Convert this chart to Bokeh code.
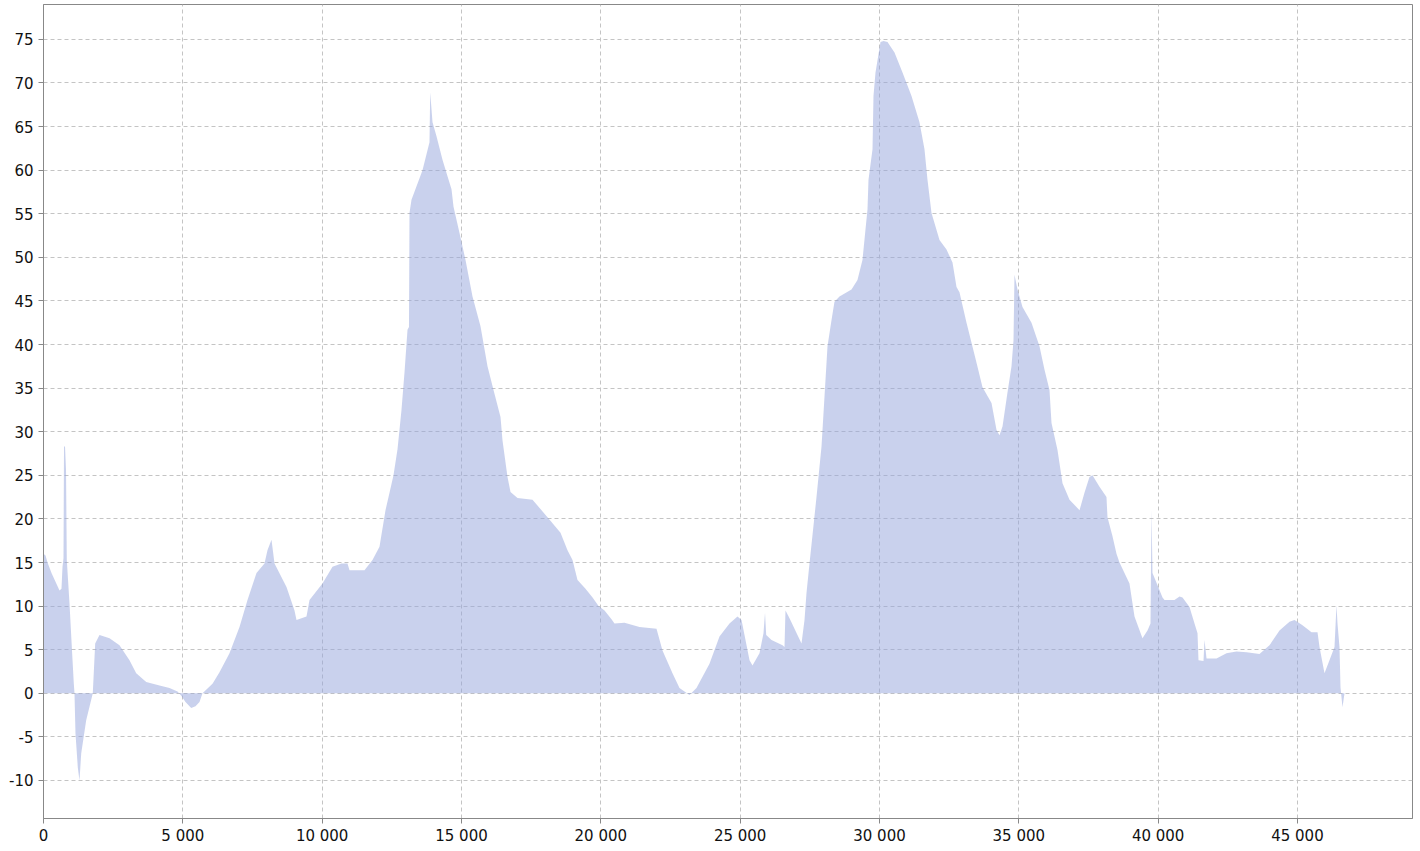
from bokeh.plotting import figure
from bokeh.models import FixedTicker, Range1d, ColumnDataSource
from bokeh.embed import file_html
from bokeh.resources import INLINE

distance = [0, 72, 144, 287, 431, 574, 646, 682, 718, 736, 772, 808, 836, 933, 1016, 1088, 1112,
            1148, 1231, 1292, 1353, 1532, 1769, 1855, 2010, 2369, 2727, 3086, 3327, 3686, 4163,
            4522, 4809, 4952, 5096, 5300, 5455, 5598, 5706, 6065, 6316, 6675, 7034, 7321, 7644,
            7931, 8038, 8182, 8290, 8720, 9007, 9079, 9438, 9546, 10012, 10371, 10694, 10909,
            10981, 11519, 11806, 12058, 12273, 12417, 12560, 12704, 12847, 12955, 13063, 13116,
            13134, 13206, 13601, 13852, 13877, 13960, 14103, 14318, 14498, 14642, 14714, 14929,
            15144, 15395, 15682, 15933, 16149, 16400, 16472, 16651, 16759, 17010, 17548, 18086,
            18553, 18804, 18984, 19163, 19450, 19703, 19918, 20133, 20383, 20491, 20850, 21388,
            21998, 22213, 22572, 22823, 23182, 23433, 23900, 24259, 24618, 24905, 25049, 25336,
            25443, 25694, 25838, 25892, 25935, 26125, 26520, 26592, 26627, 26771, 27202, 27310,
            27381, 27489, 27740, 27920, 28027, 28135, 28278, 28386, 28565, 28996, 29211, 29390,
            29498, 29570, 29606, 29750, 29785, 29857, 30037, 30145, 30288, 30539, 30826, 31149,
            31436, 31615, 31723, 31867, 32154, 32405, 32620, 32764, 32871, 33123, 33482, 33697,
            34020, 34200, 34307, 34415, 34594, 34738, 34810, 34845, 34953, 35132, 35455, 35742,
            35922, 36101, 36173, 36388, 36568, 36819, 37179, 37357, 37536, 37644, 37895, 38146,
            38182, 38362, 38505, 38613, 38971, 39151, 39438, 39618, 39726, 39762, 39797, 40157,
            40228, 40587, 40767, 40874, 41125, 41305, 41413, 41448, 41628, 41664, 41736, 42095,
            42453, 42812, 43171, 43637, 43996, 44355, 44714, 44893, 45180, 45504, 45719, 45791,
            45970, 46149, 46329, 46401, 46436, 46508, 46544, 46616, 46688, 46760]

values = [16.0, 15.8, 15.0, 13.8, 12.8, 11.8, 12.0, 14.5, 15.5, 28.3, 28.3, 25.6, 15.3, 10.3, 5.3, 1.1, 0.0,
          -4.6, -8.5, -10.0, -6.9, -3.1, 0.0, 5.7, 6.7, 6.3, 5.5, 3.8, 2.3, 1.3, 0.9,
          0.6, 0.2, -0.3, -1.0, -1.7, -1.5, -1.0, 0.0, 1.1, 2.4, 4.6, 7.6, 10.7, 13.8,
          14.9, 16.4, 17.6, 14.9, 12.2, 9.5, 8.4, 8.8, 10.7, 12.6, 14.5, 14.9, 14.9,
          14.1, 14.1, 15.3, 16.8, 21.0, 23.0, 25.0, 28.0, 32.5, 36.8, 41.7, 42.0,
          55.1, 56.6, 60.0, 63.2, 68.9, 65.5, 63.9, 61.2, 59.3, 57.8, 55.8, 52.8,
          49.7, 45.5, 42.1, 37.5, 34.8, 31.7, 29.0, 24.8, 23.1, 22.4, 22.2, 20.2,
          18.4, 16.4, 15.3, 13.0, 12.0, 11.0, 10.0, 9.5, 8.5, 8.0, 8.1, 7.6,
          7.4, 4.9, 2.3, 0.6, -0.2, 0.6, 3.4, 6.5, 8.0, 8.8, 8.4, 3.8,
          3.2, 4.6, 6.9, 9.2, 6.7, 6.1, 5.5, 5.3, 9.5, 8.6, 5.7, 8.4,
          11.5, 14.9, 22.5, 28.3, 34.0, 39.8, 42.8, 44.9, 45.5, 46.3, 47.4, 49.7,
          53.2, 55.5, 58.9, 62.4, 68.5, 71.2, 74.7, 74.8, 74.7, 73.5, 71.2, 68.5,
          65.5, 62.4, 58.9, 55.1, 52.0, 50.9, 49.4, 46.6, 46.0, 42.5, 37.9, 35.1,
          33.3, 30.2, 29.6, 30.6, 34.5, 37.5, 40.5, 48.0, 46.3, 44.3, 42.5, 39.8,
          37.1, 34.8, 31.0, 27.9, 24.1, 22.2, 21.0, 23.0, 24.8, 25.0, 23.7, 22.5,
          20.2, 18.0, 16.0, 15.0, 12.6, 8.8, 6.3, 7.2, 8.0, 21.0, 13.8, 11.0,
          10.7, 10.7, 11.1, 11.0, 9.9, 8.0, 6.9, 3.8, 3.7, 6.1, 4.0, 4.0,
          4.6, 4.8, 4.7, 4.5, 5.5, 7.2, 8.2, 8.4, 7.8, 7.0, 7.0, 5.3,
          2.3, 3.8, 5.3, 10.1, 8.0, 5.3, 0.7, -1.6, 0.0, 0.0]

x_ticks = [0, 5000, 10000, 15000, 20000, 25000, 30000, 35000, 40000, 45000]
x_tick_labels = ["0", "5 000", "10 000", "15 000", "20 000", "25 000", "30 000", "35 000", "40 000", "45 000"]
y_ticks = [-10, -5, 0, 5, 10, 15, 20, 25, 30, 35, 40, 45, 50, 55, 60, 65, 70, 75]
y_tick_labels = ["-10", "-5", "0", "5", "10", "15", "20", "25", "30", "35", "40", "45", "50", "55", "60", "65", "70", "75"]

source = ColumnDataSource(data=dict(x=distance, y=values, base=[0] * len(values)))

p = figure(width=1413, height=847, output_backend="svg", toolbar_location=None,
           x_range=Range1d(0, 49128), y_range=Range1d(-14.36, 79.0),
           min_border_left=43, min_border_right=1, min_border_top=4, min_border_bottom=25,
           background_fill_color="white", border_fill_color="white")

p.varea(x="x", y1="base", y2="y", source=source, fill_color="#94a3dc", fill_alpha=0.5)

p.outline_line_color = "#888888"
p.outline_line_width = 1

p.xaxis.ticker = FixedTicker(ticks=x_ticks)
p.yaxis.ticker = FixedTicker(ticks=y_ticks)
p.xaxis.major_label_overrides = {t: l for t, l in zip(x_ticks, x_tick_labels)}
p.yaxis.major_label_overrides = {t: l for t, l in zip(y_ticks, y_tick_labels)}

for ax in (p.xaxis, p.yaxis):
    ax.axis_line_color = "#888888"
    ax.axis_line_width = 1
    ax.major_tick_line_color = "#888888"
    ax.major_tick_in = 0
    ax.major_tick_out = 5
    ax.minor_tick_line_color = None
    ax.major_label_text_font = "DejaVu Sans"
    ax.major_label_text_font_size = "15px"
    ax.major_label_text_color = "#111111"
p.xaxis.major_label_standoff = 3
p.yaxis.major_label_standoff = 5

p.grid.grid_line_color = "#c4c4c4"
p.grid.grid_line_dash = "4 3"
p.grid.grid_line_width = 1

open("out.html", "w").write(file_html(p, INLINE))
